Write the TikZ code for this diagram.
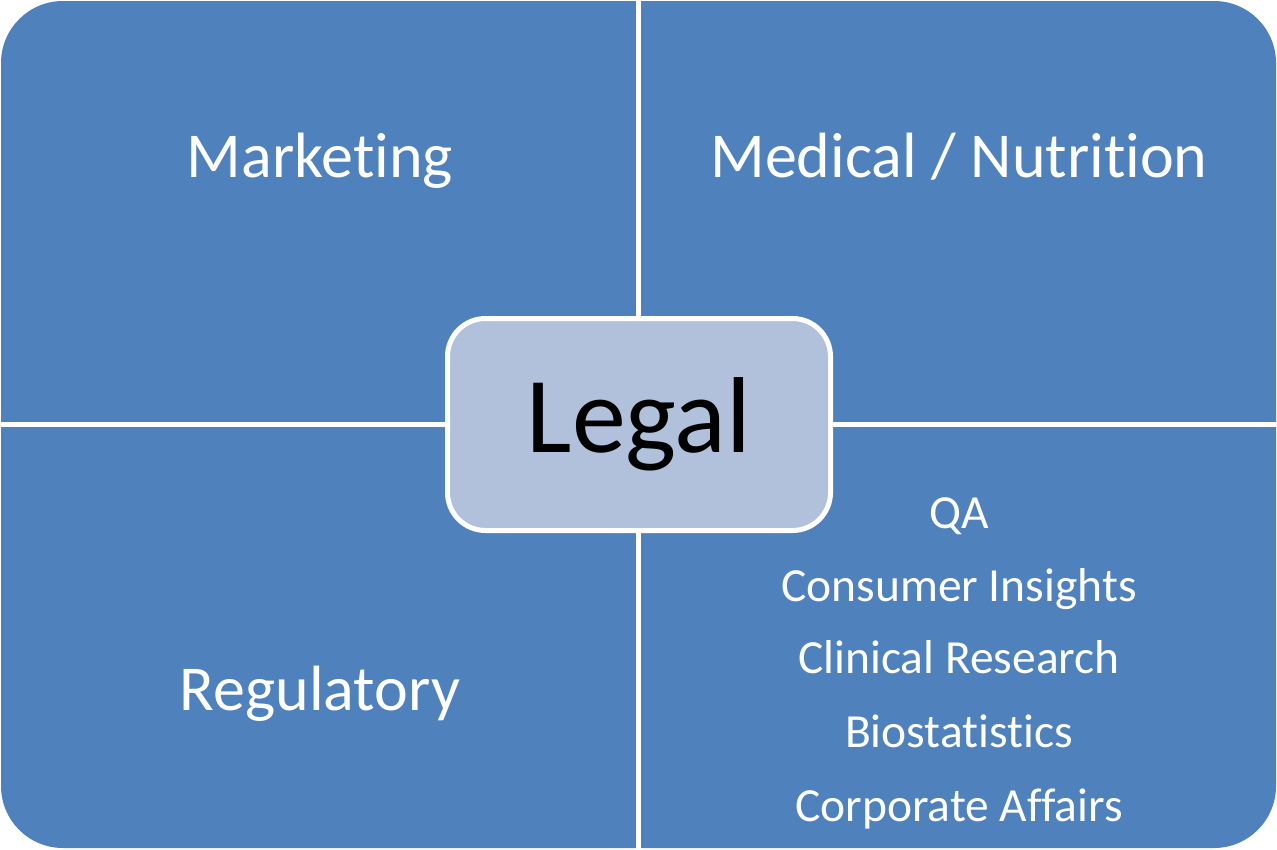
\documentclass[tikz,border=0pt]{standalone}
\usepackage{fontspec}
\setmainfont{Carlito}[RawFeature=-liga]
\usepackage{xcolor}
\usepackage{tikz}
\usetikzlibrary{positioning}
\definecolor{quadblue}{HTML}{4F81BD}
\definecolor{legalfill}{HTML}{B2C1DB}

\begin{document}
\begin{tikzpicture}[
  x=1pt, y=-1pt,
  panel/.style={fill=quadblue, rounded corners=62pt},
  divider/.style={draw=white, line width=5pt},
  hub/.style={draw=white, line width=5pt, fill=legalfill, rounded corners=38pt,
              minimum width=383pt, minimum height=212pt, inner sep=0pt,
              font=\fontsize{108}{110}\selectfont, text=black},
  area/.style={anchor=base, inner sep=0pt, text=white,
               font=\fontsize{64}{68}\selectfont},
  item/.style={anchor=base, inner sep=0pt, text=white,
               font=\fontsize{47.5}{50}\selectfont},
]
\useasboundingbox (0,0) rectangle (1277,849);

% blue panel with the four rounded outer corners
\fill[panel] (1,1) rectangle (1276,848);

% white gaps between the quadrants
\coordinate (T) at (638.5,0);
\coordinate (B) at (638.5,849);
\coordinate (L) at (0,424.5);
\coordinate (R) at (1277,424.5);
\draw[divider] (T) -- (B);
\draw[divider] (L) -- (R);

% centre box
\node[hub] (Lg) at (639,424.5) {Legal};

% quadrant titles
\node[area] (Mk) at (320,177) {Marketing};
\node[area] (Md) at (959,177) {Medical / Nutrition};
\node[area] (Rg) at (320,710) {Regulatory};

% list in the lower right quadrant
\node[item] (QA) at (959,528) {QA};
\node[item] (CI) at (959,601) {Consumer Insights};
\node[item] (CR) at (959,673) {Clinical Research};
\node[item] (BS) at (959,747) {Biostatistics};
\node[item] (CA) at (959,821) {Corporate Affairs};
\end{tikzpicture}
\end{document}
